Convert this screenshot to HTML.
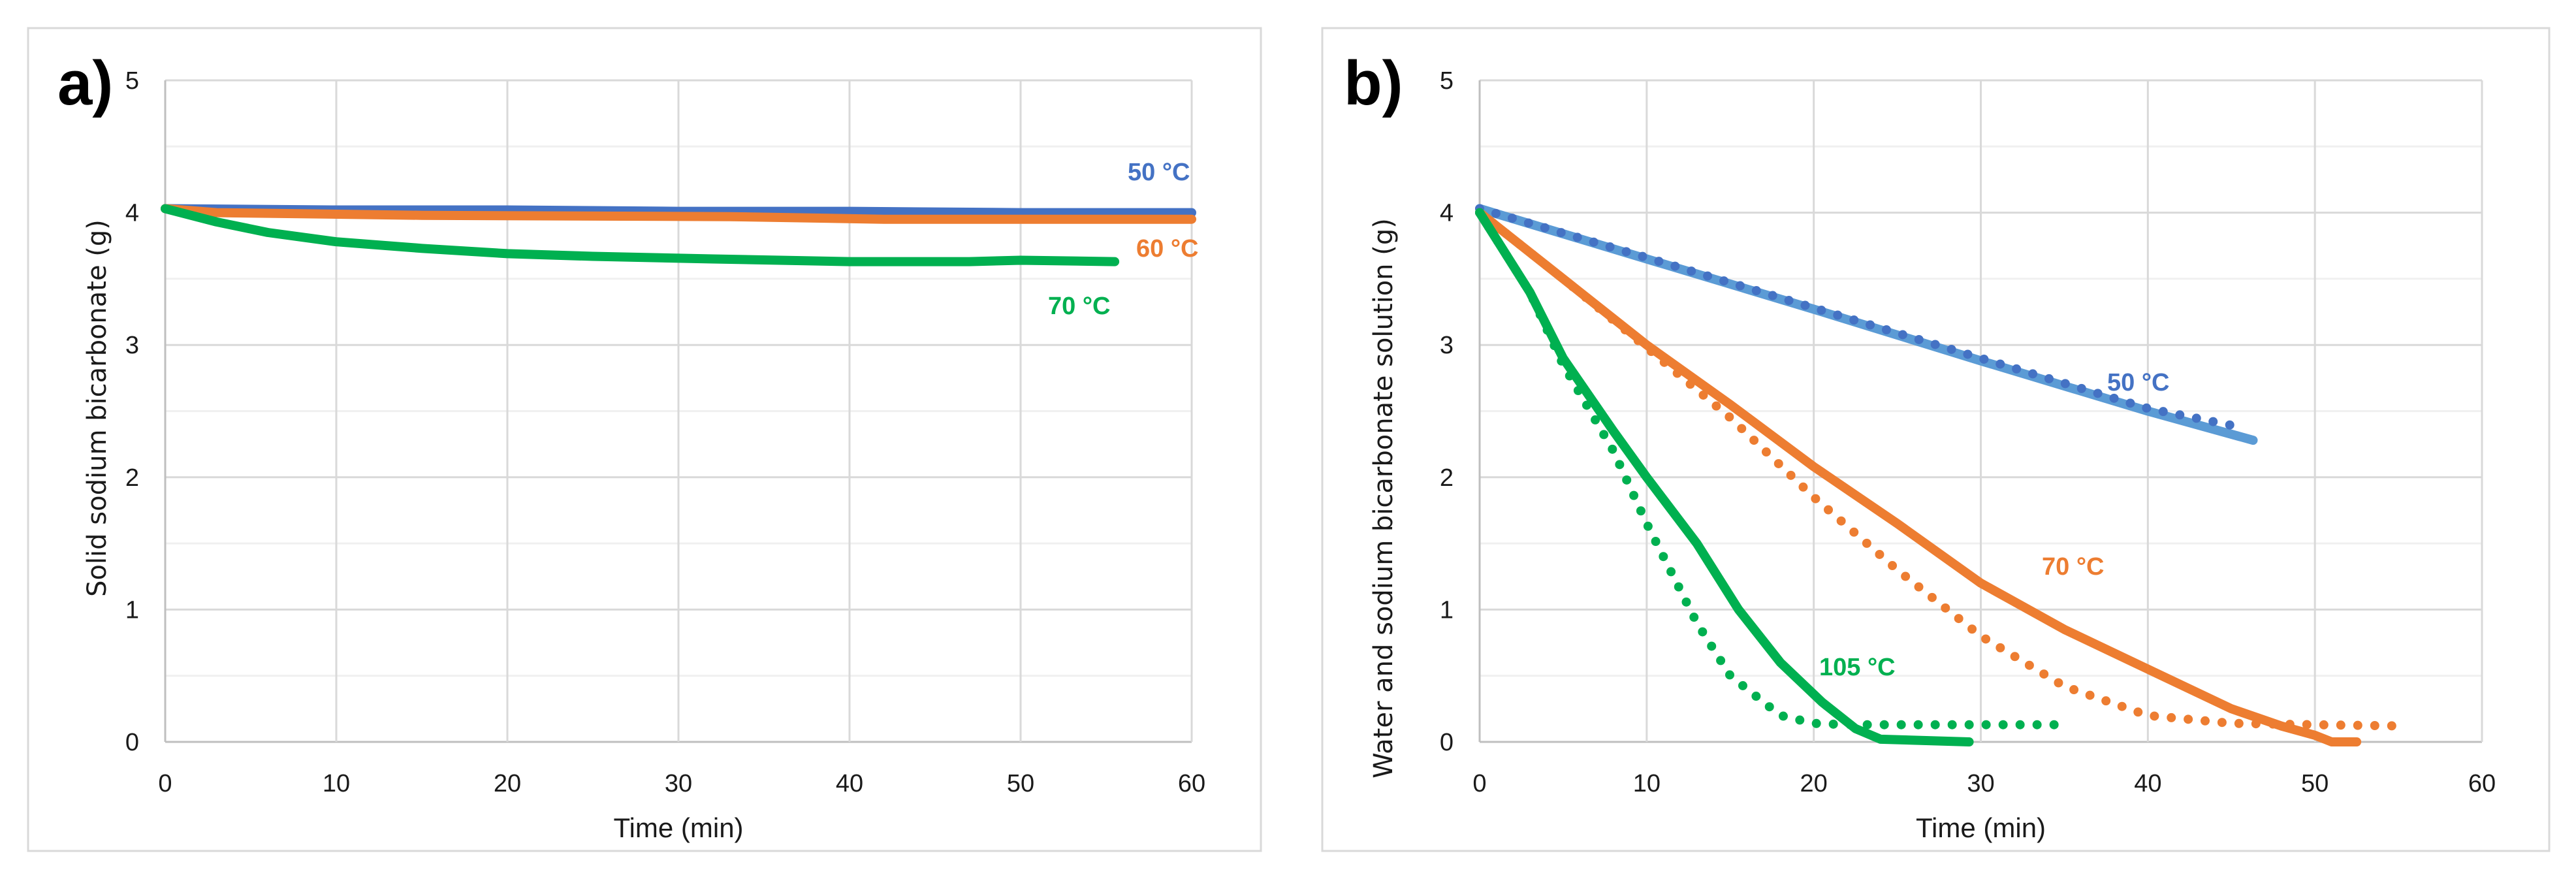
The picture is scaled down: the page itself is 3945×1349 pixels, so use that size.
<!DOCTYPE html>
<html><head><meta charset="utf-8"><style>
html,body{margin:0;padding:0;background:#fff}
svg{display:block}
.tick{font-family:"Liberation Sans Narrow","Liberation Sans",sans-serif;font-size:38px;fill:#1a1a1a}
.ttl{font-family:"DejaVu Sans","Liberation Sans",sans-serif;font-size:40px;fill:#1a1a1a}
.xttl{font-family:"Liberation Sans Narrow","Liberation Sans",sans-serif;font-size:42px;fill:#1a1a1a}
.lab{font-family:"Liberation Sans Narrow","Liberation Sans",sans-serif;font-size:38px;font-weight:bold}
.pl{font-family:"Liberation Sans",sans-serif;font-size:96px;font-weight:bold;fill:#000}
</style></head><body>
<svg id="c" width="3945" height="1349" xmlns="http://www.w3.org/2000/svg"></svg>
<script>
// Panel a data
const aBlueX=[0,10,20,30,40,50,60];
const aBlueY=[4.03,4.02,4.02,4.01,4.01,4.0,4.0];
const aOrangeX=[0,1,3,15,33,42,60];
const aOrangeY=[4.03,4.02,4.0,3.98,3.97,3.95,3.95];
const aGreenX=[0,3,6,10,15,20,25,32,40,47,50,55.5];
const aGreenY=[4.03,3.93,3.85,3.78,3.73,3.69,3.67,3.65,3.63,3.63,3.64,3.63];
// Panel b data
const bBlueX=[0,10,20,30,40,46.3];
const bBlueY=[4.03,3.65,3.27,2.88,2.5,2.28];
const bBlueDotX=[0,10,20,30,40,45.5];
const bBlueDotY=[4.03,3.66,3.28,2.9,2.52,2.38];
const bOrangeX=[0,5,10,15,20,25,30,35,40,45,48,50,51,52.5];
const bOrangeY=[4.0,3.5,3.0,2.55,2.08,1.65,1.2,0.85,0.55,0.25,0.12,0.05,0,0];
const bOrangeDotX=[0,5,10,15,20,25,30,35,40,45,50,55.5];
const bOrangeDotY=[4.0,3.5,2.98,2.45,1.85,1.3,0.8,0.42,0.2,0.14,0.13,0.12];
const bGreenX=[0,3,5,8,10,13,15.5,18,20.5,22.5,24,29.3];
const bGreenY=[4.0,3.4,2.9,2.35,2.0,1.5,1.0,0.6,0.3,0.1,0.02,0];
const bGreenDotX=[0,3,5,8,10,13,15,18,20,22,34.7];
const bGreenDotY=[4.0,3.4,2.85,2.2,1.65,0.9,0.5,0.2,0.14,0.13,0.13];
const xTicks=[0,10,20,30,40,50,60];
const yTicks=[0,1,2,3,4,5];

const NS="http://www.w3.org/2000/svg";
const svg=document.getElementById('c');
function mk(tag,attrs,parent){const e=document.createElementNS(NS,tag);for(const k in attrs)e.setAttribute(k,attrs[k]);(parent||svg).appendChild(e);return e;}

function panel(P){
  const g=mk('g',{});
  
  
  const fr=mk('rect',{x:P.fx,y:43,width:P.fw,height:1260,fill:'#fff',stroke:'#d9d9d9','stroke-width':3},g);
  
  
  const L=P.l,R=P.r,T=123,B=1136;
  const sx=v=>L+(v/60)*(R-L), sy=v=>B-(v/5)*(B-T);
  for(let v=0.5;v<5;v+=1){const ln=mk('line',{x1:L,x2:R,y1:sy(v),y2:sy(v),stroke:'#f0f0f0','stroke-width':3},g);
    
    }
  yTicks.forEach(v=>{const ln=mk('line',{x1:L,x2:R,y1:sy(v),y2:sy(v),stroke:v===0?'#bfbfbf':'#d9d9d9','stroke-width':3},g);
    
    
    const t=mk('text',{x:L-40,y:sy(v)+13,'text-anchor':'end',class:'tick'},g);t.textContent=v;
    
    });
  xTicks.forEach(v=>{const ln=mk('line',{x1:sx(v),x2:sx(v),y1:T,y2:B,stroke:v===0?'#bfbfbf':'#d9d9d9','stroke-width':3},g);
    
    
    const t=mk('text',{x:sx(v),y:1212,'text-anchor':'middle',class:'tick'},g);t.textContent=v;
    
    });
  P.series.forEach(s=>{
    const d=s.x.map((x,i)=>(i?'L':'M')+sx(x).toFixed(1)+' '+sy(s.y[i]).toFixed(1)).join(' ');
    const p=mk('path',{d:d,fill:'none',stroke:s.c,'stroke-width':s.w||14,'stroke-linecap':'round','stroke-linejoin':'round'},g);
    if(s.dot)p.setAttribute('stroke-dasharray','0 26');
    
    
  });
  P.labels.forEach(l=>{const t=mk('text',{x:l[0],y:l[1],class:'lab',fill:l[3]},g);t.textContent=l[2];
    
    });
  const xt=mk('text',{x:(L+R)/2,y:1282,'text-anchor':'middle',class:'xttl'},g);xt.textContent='Time (min)';
  
  
  const yt=mk('text',{x:0,y:0,'text-anchor':'middle',class:'ttl',transform:`translate(${P.yx},${P.yy}) rotate(-90)`},g);yt.textContent=P.ytitle;
  
  
  const pl=mk('text',{x:P.plx,y:160,class:'pl'},g);pl.textContent=P.pl;
  
  
}
panel({name:'panel-a',fx:43,fw:1888,l:253,r:1825,yx:162,yy:625,plx:88,pl:'a)',
  ytitle:'Solid sodium bicarbonate (g)',
  series:[{x:aBlueX,y:aBlueY,c:'#4472C4',n:'line-50c'},{x:aOrangeX,y:aOrangeY,c:'#ED7D31',n:'line-60c'},{x:aGreenX,y:aGreenY,c:'#00B050',n:'line-70c'}],
  labels:[[1727,276,'50 °C','#4472C4'],[1740,393,'60 °C','#ED7D31'],[1605,481,'70 °C','#00B050']]});
panel({name:'panel-b',fx:2025,fw:1879,l:2266,r:3801,yx:2132,yy:763,plx:2058,pl:'b)',
  ytitle:'Water and sodium bicarbonate solution (g)',
  series:[{x:bBlueX,y:bBlueY,c:'#5B9BD5',n:'line-50c-solid'},{x:bBlueDotX,y:bBlueDotY,c:'#4472C4',n:'line-50c-dotted',dot:1},
    {x:bOrangeX,y:bOrangeY,c:'#ED7D31',n:'line-70c-solid'},{x:bOrangeDotX,y:bOrangeDotY,c:'#ED7D31',n:'line-70c-dotted',dot:1},
    {x:bGreenX,y:bGreenY,c:'#00B050',n:'line-105c-solid'},{x:bGreenDotX,y:bGreenDotY,c:'#00B050',n:'line-105c-dotted',dot:1}],
  labels:[[3227,598,'50 °C','#4472C4'],[3127,880,'70 °C','#ED7D31'],[2786,1034,'105 °C','#00B050']]});
</script>
</body></html>
